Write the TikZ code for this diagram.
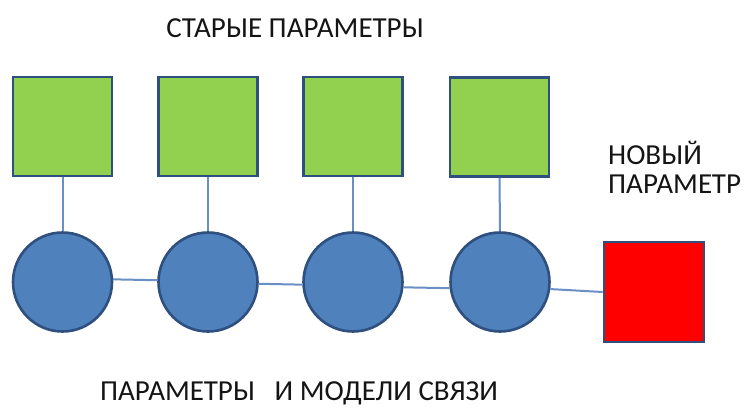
\documentclass[tikz,border=0pt]{standalone}
\usepackage{fontspec}
\setmainfont{Carlito}
\definecolor{sqgreen}{HTML}{92D050}
\definecolor{circblue}{HTML}{4F81BD}
\definecolor{edgeblue}{HTML}{2F4F7F}
\definecolor{linkblue}{HTML}{6A8FC4}
\definecolor{txt}{HTML}{141414}
\begin{document}
\begin{tikzpicture}[x=1pt,y=-1pt,
  oldsq/.style={draw=edgeblue,line width=2.6pt,fill=sqgreen,minimum size=99pt,inner sep=0pt},
  newsq/.style={draw=edgeblue,line width=2.6pt,fill=red,minimum size=100pt,inner sep=0pt},
  par/.style={circle,draw=edgeblue,line width=2.6pt,fill=circblue,minimum size=99pt,inner sep=0pt},
  link/.style={draw=linkblue,line width=2pt},
  lbl/.style={text=txt,font=\fontsize{29}{29}\selectfont,inner sep=0pt}]
\useasboundingbox (0,0) rectangle (744,407);
\node[oldsq] (s1) at (62.5,126.5) {};
\node[oldsq] (s2) at (208,126.5) {};
\node[oldsq] (s3) at (353,126.5) {};
\node[oldsq] (s4) at (499.5,127) {};
\node[par] (c1) at (62.5,282) {};
\node[par] (c2) at (208,282) {};
\node[par] (c3) at (353,282) {};
\node[par] (c4) at (500,282) {};
\node[newsq] (r) at (654,292) {};
\draw[link] (s1) -- (c1);
\draw[link] (s2) -- (c2);
\draw[link] (s3) -- (c3);
\draw[link] (s4) -- (c4);
\draw[link] (c1.3.4) -- (c2.178.9);
\draw[link] (c2.358.9) -- (c3.183.4);
\draw[link] (c3.354) -- (c4.187);
\draw[link] (c4.352) -- (r.west|-{0,292});
\node[lbl] (t1) at (295,28) {СТАРЫЕ ПАРАМЕТРЫ};
\node[lbl,align=left,anchor=north west] (t2) at (608,141) {НОВЫЙ\\ПАРАМЕТР};
\node[lbl] (t3) at (299,393) {ПАРАМЕТРЫ\ \ \ И МОДЕЛИ СВЯЗИ};
\end{tikzpicture}
\end{document}
